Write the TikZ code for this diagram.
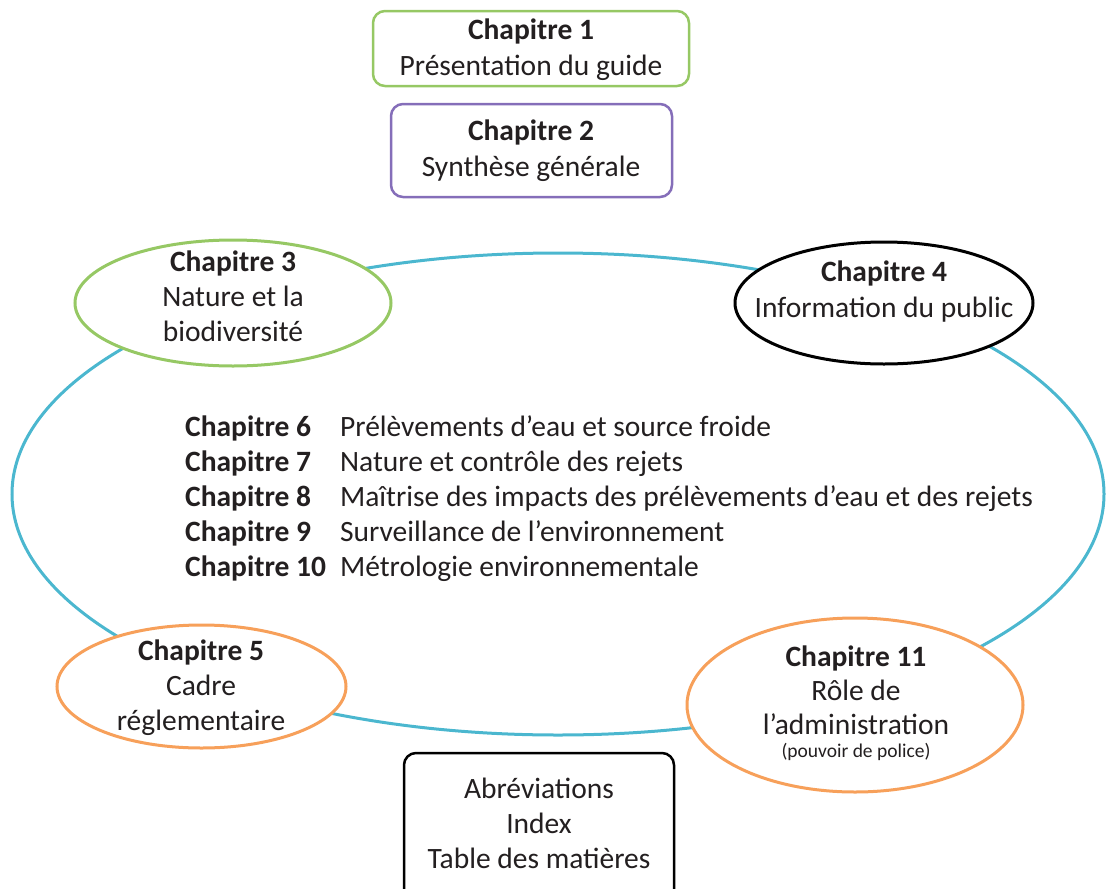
\documentclass[tikz,border=0pt]{standalone}
\usepackage{fontspec}
\setmainfont{Carlito}
\usetikzlibrary{shapes.geometric}
\definecolor{cgreen}{RGB}{150,200,100}
\definecolor{cpurple}{RGB}{133,110,185}
\definecolor{ccyan}{RGB}{75,183,207}
\definecolor{corange}{RGB}{247,160,90}
\definecolor{ctext}{RGB}{35,31,32}
\begin{document}
\begin{tikzpicture}[x=1pt,y=-1pt,
  ring/.style={ellipse, draw=ccyan, line width=3pt, inner sep=0pt, outer sep=0pt},
  oval/.style={ellipse, fill=white, line width=3pt, inner sep=0pt},
  rbox/.style={rectangle, rounded corners=12pt, fill=white, line width=2.5pt, inner sep=0pt},
  txt/.style={inner sep=0pt, text=ctext, font=\fontsize{29.5}{35}\selectfont},
  txtb/.style={inner sep=0pt, text=ctext, font=\fontsize{29.5}{36}\selectfont},
]
\useasboundingbox (0,0) rectangle (1106,889);

% big ring
\node[ring, minimum width=1092pt, minimum height=482pt] (ring) at (558,494) {};

% top boxes
\node[rbox, draw=cgreen, minimum width=316pt, minimum height=75pt] (b1) at (531,48.5) {};
\node[txtb] (t1) at (531,50) {\begin{tabular}{@{}c@{}}\textbf{Chapitre 1}\\Présentation du guide\end{tabular}};

\node[rbox, draw=cpurple, minimum width=281pt, minimum height=93pt] (b2) at (531.5,150.5) {};
\node[txtb] (t2) at (531,151) {\begin{tabular}{@{}c@{}}\textbf{Chapitre 2}\\Synthèse générale\end{tabular}};

% ovals
\node[oval, draw=cgreen, minimum width=316pt, minimum height=126pt] (e3) at (233,303) {};
\node[txt] (t3) at (233,299) {\begin{tabular}{@{}c@{}}\textbf{Chapitre 3}\\Nature et la\\biodiversité\end{tabular}};

\node[oval, draw=black, minimum width=298pt, minimum height=122pt] (e4) at (884,303) {};
\node[txtb] (t4) at (884,292) {\begin{tabular}{@{}c@{}}\textbf{Chapitre 4}\\Information du public\end{tabular}};

\node[oval, draw=corange, minimum width=289pt, minimum height=123pt] (e5) at (201.5,686.5) {};
\node[txt] (t5) at (201,688) {\begin{tabular}{@{}c@{}}\textbf{Chapitre 5}\\Cadre\\réglementaire\end{tabular}};

\node[oval, draw=corange, minimum width=336pt, minimum height=174pt] (e11) at (855,705) {};
\node[inner sep=0pt, text=ctext, font=\fontsize{29.5}{34}\selectfont] (t11) at (856,705) {\begin{tabular}{@{}c@{}}\textbf{Chapitre 11}\\Rôle de\\l’administration\\[-11pt]{\fontsize{19.5}{23}\selectfont (pouvoir de police)}\end{tabular}};

% central list
\node[txt, anchor=west] (list) at (185,499) {\begin{tabular}{@{}l@{\hspace{14pt}}l@{}}
\textbf{Chapitre 6} & Prélèvements d’eau et source froide\\
\textbf{Chapitre 7} & Nature et contrôle des rejets\\
\textbf{Chapitre 8} & Maîtrise des impacts des prélèvements d’eau et des rejets\\
\textbf{Chapitre 9} & Surveillance de l’environnement\\
\textbf{Chapitre 10} & Métrologie environnementale
\end{tabular}};

% bottom box
\node[rbox, draw=black, minimum width=270pt, minimum height=150pt] (b12) at (539,828) {};
\node[txt] (t12) at (539,826) {\begin{tabular}{@{}c@{}}Abréviations\\Index\\Table des matières\end{tabular}};
\end{tikzpicture}
\end{document}
